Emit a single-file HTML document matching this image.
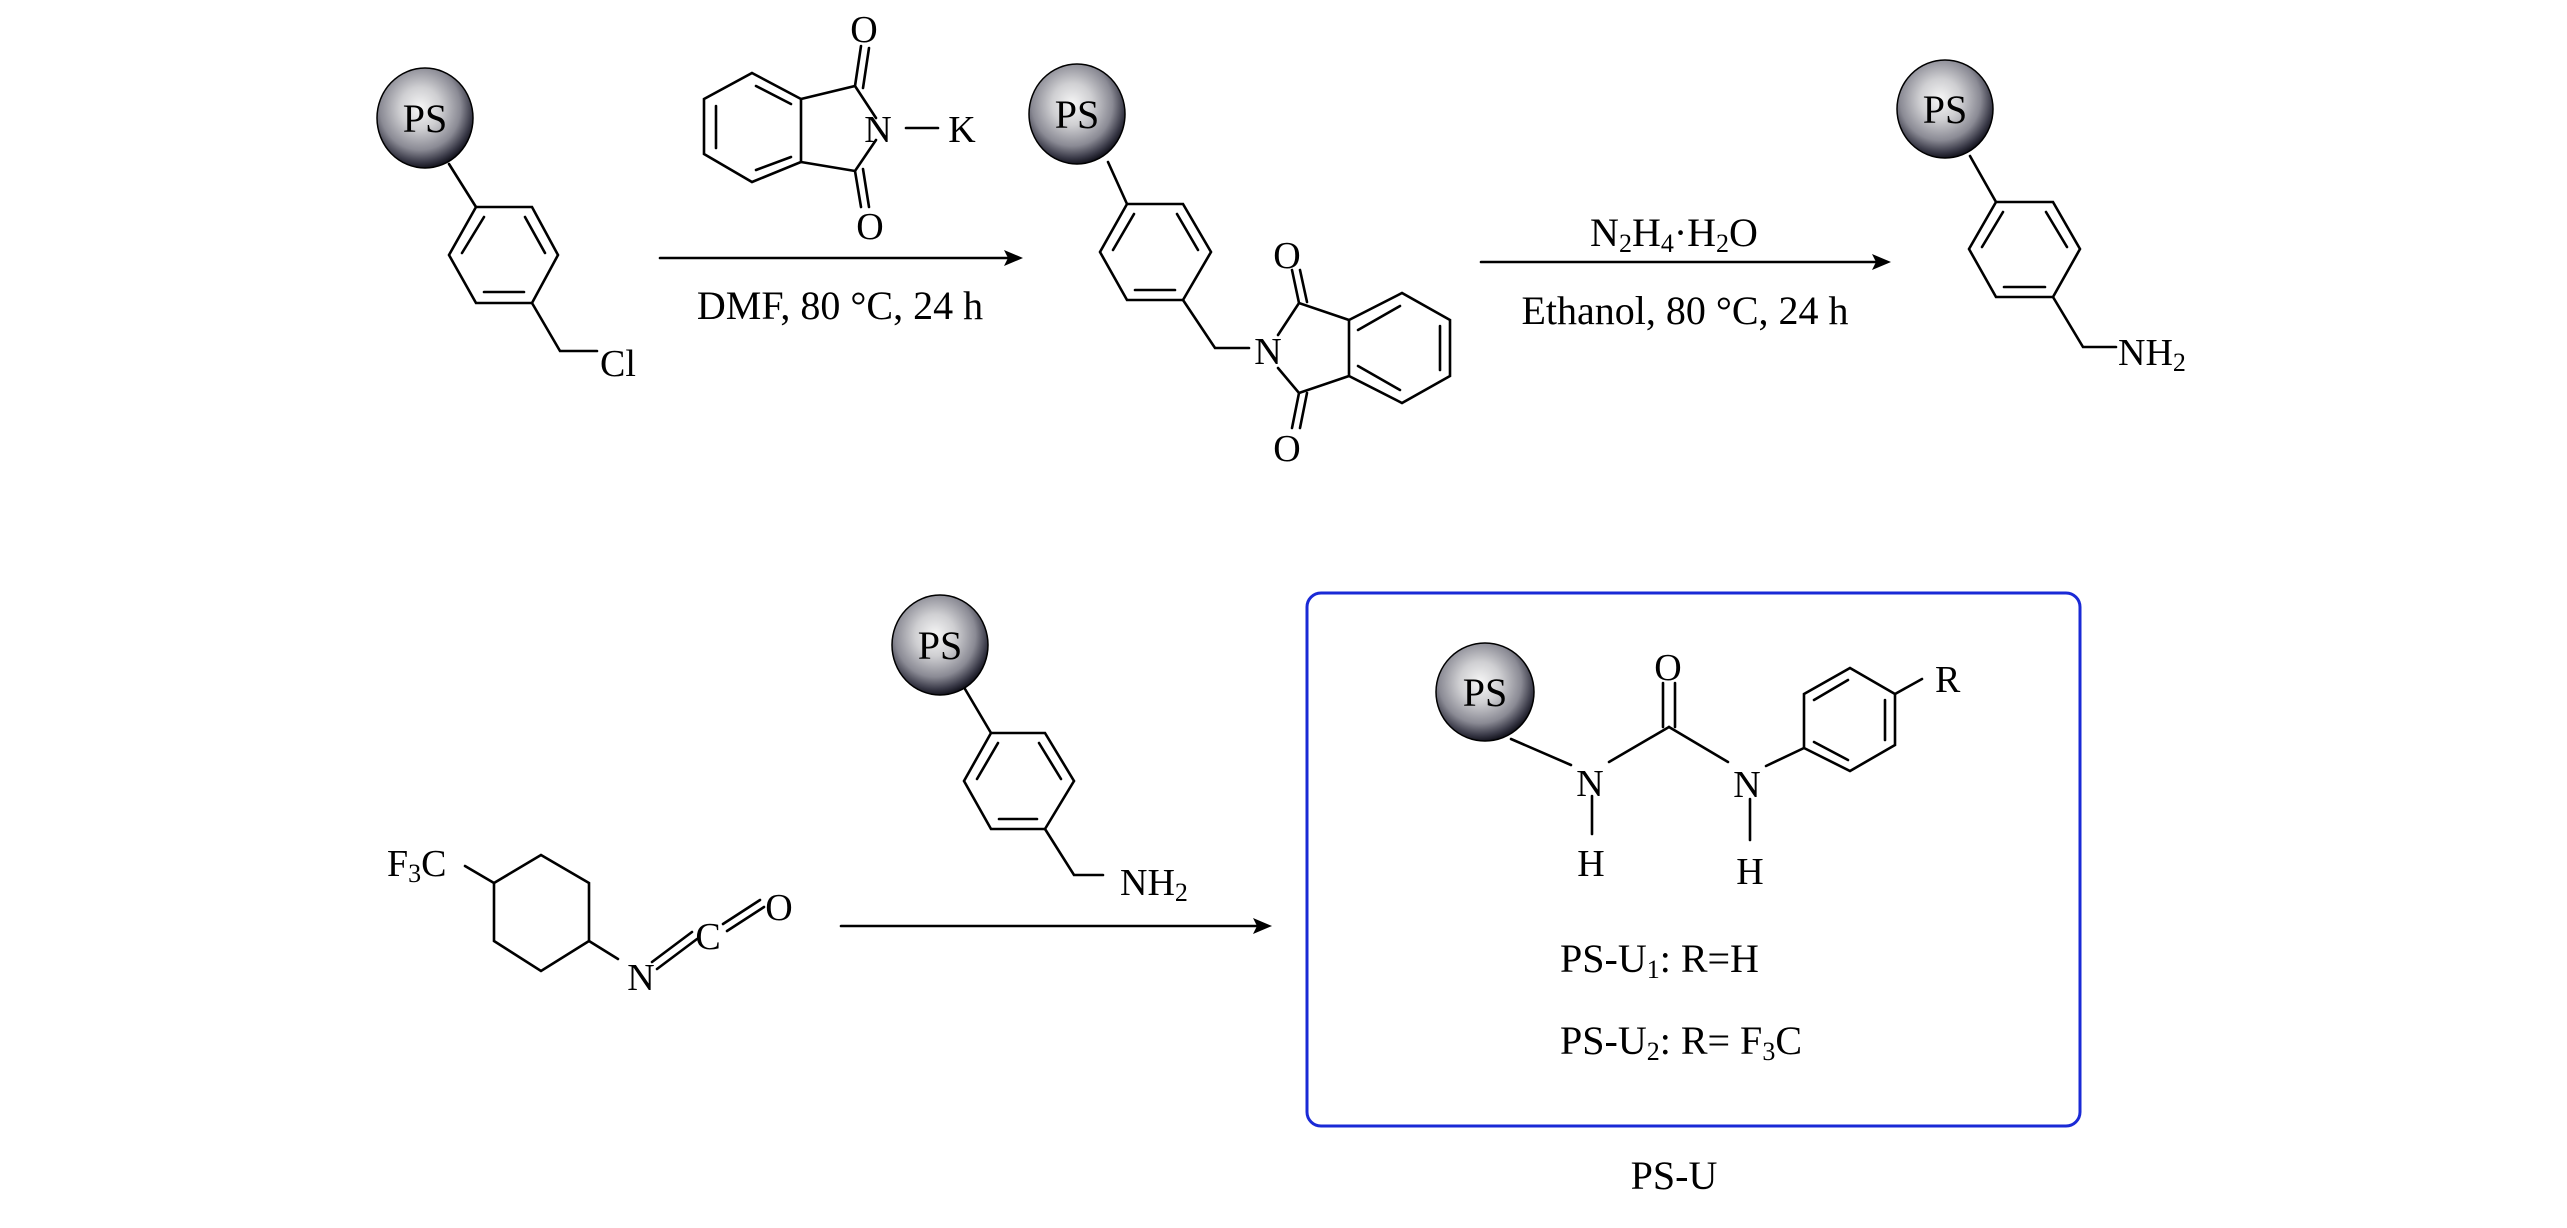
<!DOCTYPE html>
<html><head><meta charset="utf-8"><style>html,body{margin:0;padding:0;background:#fff}svg{display:block}</style></head>
<body>
<svg width="2567" height="1228" viewBox="0 0 2567 1228" xmlns="http://www.w3.org/2000/svg" font-family="'Liberation Serif', serif" fill="#000">
<defs>
<radialGradient id="g" cx="0.45" cy="0.4" r="0.6">
<stop offset="0" stop-color="#f6f6f6"/>
<stop offset="0.35" stop-color="#cfcfd2"/>
<stop offset="0.7" stop-color="#8a8a94"/>
<stop offset="0.9" stop-color="#3a3a48"/>
<stop offset="1" stop-color="#15151f"/>
</radialGradient>
</defs>
<g stroke="#000" stroke-width="2.6" fill="none" stroke-linecap="round">
<line x1="449" y1="164" x2="476" y2="207"/>
<polygon points="476,207 532,207 558,255 532,303 476,303 449,255"/>
<line x1="462" y1="253" x2="484" y2="217"/><line x1="545" y1="253" x2="525" y2="217"/><line x1="484" y1="292" x2="524" y2="292"/>
<polyline points="532,303 560,351 597,351"/>
<polygon points="752,73 801,99 801,162 752,182 704,154 704,99"/>
<line x1="716" y1="106" x2="716" y2="148"/><line x1="756" y1="86" x2="791" y2="104"/><line x1="756" y1="170" x2="791" y2="157"/>
<polyline points="801,99 855,86 876,118"/><polyline points="801,162 855,171 876,140"/>
<line x1="855" y1="86" x2="861" y2="46"/><line x1="863" y1="88" x2="869" y2="48"/>
<line x1="855" y1="171" x2="861" y2="207"/><line x1="863" y1="169" x2="869" y2="207"/>
<line x1="906" y1="128" x2="938" y2="128"/>
<line x1="660" y1="258" x2="1018" y2="258"/>
<line x1="1108" y1="162" x2="1127" y2="204"/>
<polygon points="1127,204 1183,204 1211,252 1183,300 1127,300 1100,252"/>
<line x1="1113" y1="250" x2="1134" y2="214"/><line x1="1198" y1="250" x2="1177" y2="214"/><line x1="1135" y1="290" x2="1175" y2="290"/>
<polyline points="1183,300 1215,348 1249,348"/>
<polyline points="1278,335 1299,303 1349,320"/><polyline points="1278,368 1299,393 1349,376"/>
<line x1="1299" y1="303" x2="1292" y2="270"/><line x1="1307" y1="302" x2="1300" y2="270"/>
<line x1="1299" y1="393" x2="1292" y2="428"/><line x1="1307" y1="393" x2="1300" y2="428"/>
<polygon points="1349,320 1402,293 1450,320 1450,376 1402,403 1349,376"/>
<line x1="1440" y1="326" x2="1440" y2="370"/><line x1="1358" y1="330" x2="1400" y2="306"/><line x1="1358" y1="366" x2="1400" y2="390"/>
<line x1="1481" y1="262" x2="1884" y2="262"/>
<line x1="1970" y1="156" x2="1996" y2="202"/>
<polygon points="1996,202 2053,202 2080,249 2053,297 1996,297 1969,249"/>
<line x1="1982" y1="247" x2="2003" y2="212"/><line x1="2067" y1="247" x2="2046" y2="212"/><line x1="2004" y1="287" x2="2045" y2="287"/>
<polyline points="2053,297 2083,347 2116,347"/>
<polygon points="494,883 541,855 589,883 589,941 541,971 494,941"/>
<line x1="465" y1="866" x2="494" y2="883"/>
<line x1="589" y1="941" x2="618" y2="959"/>
<line x1="652" y1="962" x2="692" y2="932"/><line x1="657" y1="969" x2="697" y2="939"/>
<line x1="723" y1="924" x2="760" y2="900"/><line x1="727" y1="931" x2="764" y2="907"/>
<line x1="841" y1="926" x2="1264" y2="926"/>
<line x1="965" y1="689" x2="991" y2="733"/>
<polygon points="991,733 1045,733 1074,781 1045,829 991,829 964,781"/>
<line x1="977" y1="779" x2="998" y2="743"/><line x1="1061" y1="779" x2="1039" y2="743"/><line x1="999" y1="819" x2="1037" y2="819"/>
<polyline points="1045,829 1074,875 1103,875"/>
<rect x="1307" y="593" width="773" height="533" rx="14" stroke="#1a2ad6" stroke-width="3"/>
<line x1="1511" y1="739" x2="1571" y2="765"/>
<line x1="1609" y1="762" x2="1669" y2="727"/>
<line x1="1669" y1="727" x2="1728" y2="762"/>
<line x1="1663" y1="727" x2="1663" y2="683"/><line x1="1675" y1="727" x2="1675" y2="683"/>
<line x1="1592" y1="796" x2="1592" y2="834"/>
<line x1="1750" y1="799" x2="1750" y2="840"/>
<line x1="1766" y1="766" x2="1804" y2="748"/>
<polygon points="1804,748 1804,694 1850,668 1895,694 1895,745 1850,771"/>
<line x1="1814" y1="700" x2="1848" y2="680"/><line x1="1885" y1="700" x2="1885" y2="740"/><line x1="1814" y1="742" x2="1848" y2="760"/>
<line x1="1895" y1="694" x2="1922" y2="679"/>
</g>
<g fill="#000">
<polygon points="1023,258 1004,250 1008,258 1004,266"/>
<polygon points="1891,262 1872,254 1876,262 1872,270"/>
<polygon points="1272,926 1253,918 1257,926 1253,934"/>
</g>
<g stroke="#000" stroke-width="1.5" fill="url(#g)">
<ellipse cx="425" cy="118" rx="48" ry="50"/>
<ellipse cx="1077" cy="114" rx="48" ry="50"/>
<ellipse cx="1945" cy="109" rx="48" ry="49"/>
<ellipse cx="940" cy="645" rx="48" ry="50"/>
<ellipse cx="1485" cy="692" rx="49" ry="49"/>
</g>
<g font-size="40" text-anchor="middle">
<text x="425" y="132">PS</text><text x="1077" y="128">PS</text><text x="1945" y="123">PS</text><text x="940" y="659">PS</text><text x="1485" y="706">PS</text>
</g>
<g font-size="38">
<text x="600" y="376">Cl</text>
<text x="864" y="42" text-anchor="middle">O</text>
<text x="878" y="142" text-anchor="middle">N</text>
<text x="962" y="142" text-anchor="middle">K</text>
<text x="870" y="239" text-anchor="middle">O</text>
<text x="840" y="319" text-anchor="middle" font-size="40">DMF, 80 °C, 24 h</text>
<text x="1287" y="268" text-anchor="middle">O</text>
<text x="1268" y="364" text-anchor="middle">N</text>
<text x="1287" y="461" text-anchor="middle">O</text>
<text x="1674" y="246" text-anchor="middle" font-size="40">N<tspan font-size="26" dy="6">2</tspan><tspan dy="-6">H</tspan><tspan font-size="26" dy="6">4</tspan><tspan dy="-6">·H</tspan><tspan font-size="26" dy="6">2</tspan><tspan dy="-6">O</tspan></text>
<text x="1685" y="324" text-anchor="middle" font-size="40">Ethanol, 80 °C, 24 h</text>
<text x="2118" y="365">NH<tspan font-size="26" dy="6">2</tspan></text>
<text x="387" y="876">F<tspan font-size="26" dy="6">3</tspan><tspan dy="-6">C</tspan></text>
<text x="641" y="990" text-anchor="middle">N</text>
<text x="708" y="949" text-anchor="middle">C</text>
<text x="779" y="920" text-anchor="middle">O</text>
<text x="1120" y="895">NH<tspan font-size="26" dy="6">2</tspan></text>
<text x="1668" y="680" text-anchor="middle">O</text>
<text x="1590" y="796" text-anchor="middle">N</text>
<text x="1747" y="797" text-anchor="middle">N</text>
<text x="1591" y="876" text-anchor="middle">H</text>
<text x="1750" y="884" text-anchor="middle">H</text>
<text x="1935" y="692">R</text>
<text x="1560" y="972" font-size="40">PS-U<tspan font-size="26" dy="6">1</tspan><tspan dy="-6">:  R=H</tspan></text>
<text x="1560" y="1054" font-size="40">PS-U<tspan font-size="26" dy="6">2</tspan><tspan dy="-6">: R= F</tspan><tspan font-size="26" dy="6">3</tspan><tspan dy="-6">C</tspan></text>
<text x="1674" y="1189" text-anchor="middle" font-size="40">PS-U</text>
</g>
</svg>
</body></html>
